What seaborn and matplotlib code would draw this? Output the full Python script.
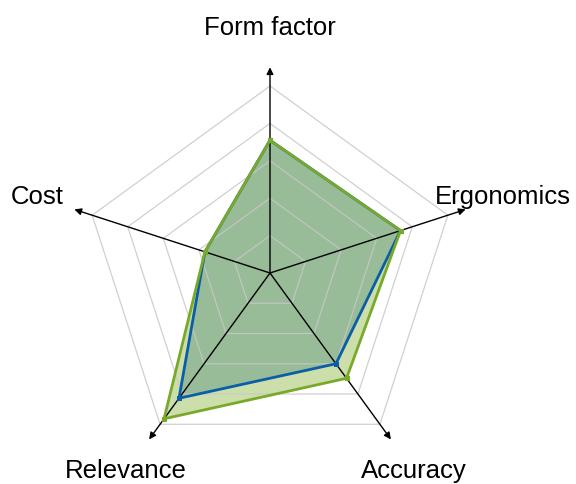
import numpy as np
import pandas as pd
import matplotlib
matplotlib.use("Agg")
import matplotlib.pyplot as plt
import seaborn as sns

categories = ["Form factor", "Ergonomics", "Accuracy", "Relevance", "Cost"]
series_blue = [3.55, 3.67, 3.0, 4.14, 1.83]
series_green = [3.55, 3.67, 3.48, 4.82, 1.83]
grid_levels = [1, 2, 3, 4, 5]

sns.set_style("white")
plt.rcParams["font.family"] = ["Liberation Sans", "DejaVu Sans"]

fig = plt.figure(figsize=(5.76, 4.84), dpi=100)
ax = fig.add_axes([0, 0, 1, 1])
unit = 37.4
ax.set_xlim(-270 / unit, (576 - 270) / unit)
ax.set_ylim(-211 / unit, 273 / unit)
ax.axis("off")

n = len(categories)
angles = np.deg2rad(90 - 72 * np.arange(n))


def xy(vals):
    v = np.asarray(vals, dtype=float)
    x = v * np.cos(angles)
    y = v * np.sin(angles)
    return np.append(x, x[0]), np.append(y, y[0])


# fills
gx, gy = xy(series_green)
bx, by = xy(series_blue)
ax.fill(gx, gy, color=(0.80, 0.875, 0.665), zorder=1, lw=0)
ax.fill(bx, by, color=(0.595, 0.735, 0.595), zorder=2, lw=0)

# grid rings
for lv in grid_levels:
    rx, ry = xy([lv] * n)
    ax.plot(rx, ry, color="#c8c8c8", lw=0.9, zorder=3, alpha=0.85)

# axes arrows
for a in angles:
    ax.annotate("", xy=(5.5 * np.cos(a), 5.5 * np.sin(a)), xytext=(0, 0),
                arrowprops=dict(arrowstyle="-|>", color="black", lw=1.0,
                                mutation_scale=10, shrinkA=0, shrinkB=0),
                zorder=4)

# labels
for a, c in zip(angles, categories):
    ax.text(6.55 * np.cos(a), 6.55 * np.sin(a), c, ha="center", va="center",
            fontsize=18.5, color="black")

# series lines
df = pd.concat([
    pd.DataFrame({"x": bx, "y": by, "s": "blue", "o": range(n + 1)}),
    pd.DataFrame({"x": gx, "y": gy, "s": "green", "o": range(n + 1)}),
])
pal = {"blue": "#0a5ea8", "green": "#78a92a"}
for s, z in [("blue", 5), ("green", 6)]:
    sub = df[df.s == s]
    sns.lineplot(data=sub, x="x", y="y", sort=False, estimator=None,
                 color=pal[s], lw=2, ax=ax, zorder=z, legend=False,
                 marker="s", markersize=2.5, markeredgecolor=pal[s])

ax.set_xlabel("")
ax.set_ylabel("")
fig.savefig("out.png", dpi=100)
